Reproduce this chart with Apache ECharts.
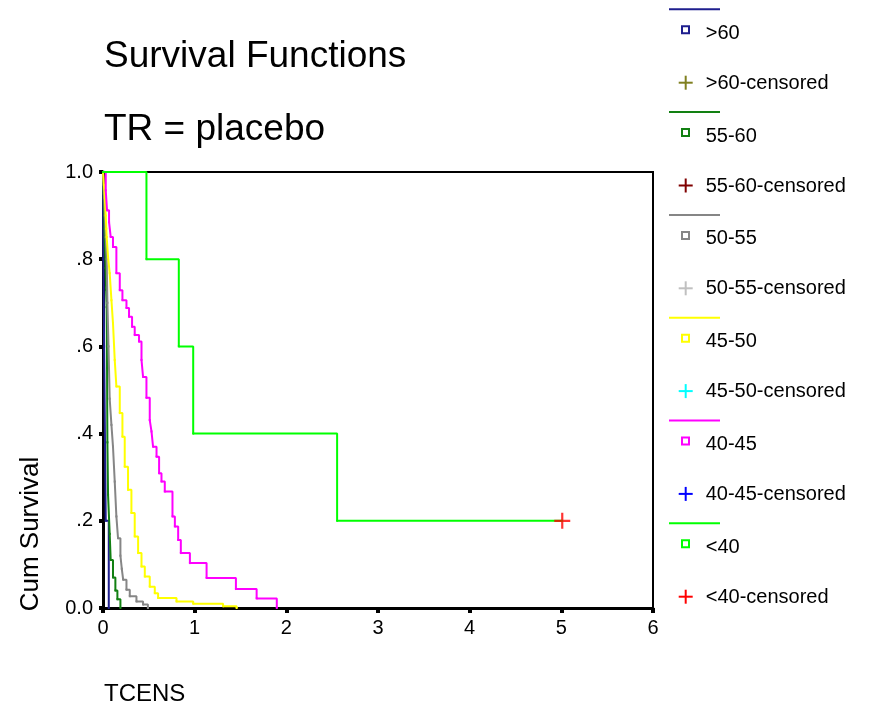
<!DOCTYPE html>
<html>
<head>
<meta charset="utf-8">
<script src="https://cdn.jsdelivr.net/npm/echarts@6/dist/echarts.min.js"></script>
<style>html,body{margin:0;padding:0;background:#fff}#c{width:873px;height:710px}</style>
</head>
<body>
<div id="c"></div>
<script>
const FONT = '"Liberation Sans", Arial, sans-serif';
const groups = ['>60', '55-60', '50-55', '45-50', '40-45', '<40'];
const lineColors = ['#1e1e8e', '#128012', '#868686', '#ffff00', '#ff00ff', '#00ff00'];
const censColors = ['#808020', '#800000', '#c0c0c0', '#00ffff', '#0000ff', '#ff0000'];

const xTicks = [0, 1, 2, 3, 4, 5, 6];
const yTickLabels = {0: '0.0', 0.2: '.2', 0.4: '.4', 0.6: '.6', 0.8: '.8', 1: '1.0'};

// survival step data (time, cumulative survival)
const t_gt60 = [0, 0.004, 0.012, 0.03, 0.063];
const s_gt60 = [1, 0.8, 0.6, 0.2, 0];

const t_55_60 = [0, 0.005, 0.01, 0.016, 0.022, 0.028, 0.034, 0.04, 0.044, 0.048, 0.055, 0.073, 0.084, 0.109, 0.135, 0.157, 0.19];
const s_55_60 = [1, 0.96, 0.92, 0.87, 0.83, 0.78, 0.73, 0.69, 0.55, 0.38, 0.26, 0.17, 0.11, 0.07, 0.04, 0.02, 0];

const t_50_55 = [0, 0.01, 0.02, 0.03, 0.04, 0.048, 0.06, 0.073, 0.092, 0.109, 0.128, 0.146, 0.164, 0.19, 0.205, 0.22, 0.256, 0.292, 0.365, 0.437, 0.49];
const s_50_55 = [1, 0.95, 0.9, 0.85, 0.8, 0.7, 0.6, 0.48, 0.42, 0.37, 0.29, 0.21, 0.16, 0.12, 0.09, 0.065, 0.042, 0.027, 0.015, 0.008, 0];

const t_45_50 = [0, 0.01, 0.02, 0.03, 0.036, 0.04, 0.055, 0.073, 0.092, 0.109, 0.128, 0.146, 0.183, 0.212, 0.237, 0.273, 0.31, 0.346, 0.383, 0.42, 0.456, 0.51, 0.565, 0.601, 0.802, 0.984, 1.31, 1.458];
const s_45_50 = [1, 0.97, 0.94, 0.9, 0.87, 0.851, 0.805, 0.768, 0.706, 0.653, 0.569, 0.508, 0.447, 0.393, 0.324, 0.271, 0.218, 0.164, 0.126, 0.095, 0.072, 0.049, 0.034, 0.023, 0.015, 0.01, 0.004, 0];

const t_40_45 = [0, 0.03, 0.044, 0.066, 0.084, 0.109, 0.146, 0.183, 0.212, 0.256, 0.284, 0.317, 0.346, 0.393, 0.42, 0.437, 0.474, 0.51, 0.529, 0.546, 0.584, 0.612, 0.638, 0.674, 0.758, 0.784, 0.82, 0.849, 0.948, 1.13, 1.45, 1.676, 1.896];
const s_40_45 = [1, 0.958, 0.912, 0.885, 0.851, 0.828, 0.768, 0.729, 0.706, 0.688, 0.668, 0.645, 0.626, 0.611, 0.569, 0.53, 0.482, 0.431, 0.405, 0.37, 0.347, 0.309, 0.29, 0.267, 0.21, 0.187, 0.156, 0.126, 0.103, 0.069, 0.0435, 0.022, 0];

const t_lt40 = [0, 0.474, 0.827, 0.984, 2.554, 5.01];
const s_lt40 = [1, 0.8, 0.6, 0.4, 0.2, 0.2];

// censored observations per group
const cens_gt60 = [];
const cens_55_60 = [];
const cens_50_55 = [];
const cens_45_50 = [];
const cens_40_45 = [];
const cens_lt40 = [[5.01, 0.2]];

const times = [t_gt60, t_55_60, t_50_55, t_45_50, t_40_45, t_lt40];
const survs = [s_gt60, s_55_60, s_50_55, s_45_50, s_40_45, s_lt40];
const cens = [cens_gt60, cens_55_60, cens_50_55, cens_45_50, cens_40_45, cens_lt40];

const PLUS = 'path://M6.9,0H9.1V6.9H16V9.1H9.1V16H6.9V9.1H0V6.9H6.9Z';

const series = [];
groups.forEach((g, i) => {
  series.push({
    name: g, type: 'line', step: 'end',
    data: times[i].map((t, k) => [t, survs[i][k]]),
    symbol: 'rect', symbolSize: 2, showSymbol: true,
    itemStyle: {color: lineColors[i]},
    lineStyle: {color: lineColors[i], width: 2},
    z: 3 + i, animation: false, clip: false
  });
});
groups.forEach((g, i) => {
  series.push({
    name: g + '-censored', type: 'scatter',
    data: cens[i], symbol: PLUS, symbolSize: 16,
    itemStyle: {color: censColors[i]}, z: 20, animation: false
  });
});

// legend drawn as graphic elements
const graphic = [];
groups.forEach((g, i) => {
  const by = 9.3 + 102.8 * i;
  graphic.push({type: 'line', shape: {x1: 669, y1: by, x2: 720, y2: by}, style: {stroke: lineColors[i], lineWidth: 2}});
  graphic.push({type: 'rect', shape: {x: 682, y: by + 17, width: 7, height: 7}, style: {fill: 'none', stroke: lineColors[i], lineWidth: 2}});
  graphic.push({type: 'text', style: {text: g, x: 705.7, y: by + 24, fill: '#000', fontSize: 20, fontFamily: FONT, verticalAlign: 'middle', align: 'left'}});
  const cy = by + 73.4;
  graphic.push({type: 'line', shape: {x1: 678.7, y1: cy, x2: 692.7, y2: cy}, style: {stroke: censColors[i], lineWidth: 2}});
  graphic.push({type: 'line', shape: {x1: 685.7, y1: cy - 7, x2: 685.7, y2: cy + 7}, style: {stroke: censColors[i], lineWidth: 2}});
  graphic.push({type: 'text', style: {text: g + '-censored', x: 705.7, y: cy + 0.5, fill: '#000', fontSize: 20, fontFamily: FONT, verticalAlign: 'middle', align: 'left'}});
});
graphic.push({type: 'text', rotation: Math.PI / 2, x: 31, y: 534, style: {text: 'Cum Survival', x: 0, y: 0, fill: '#000', fontSize: 26, fontFamily: FONT, align: 'center', verticalAlign: 'middle'}});
graphic.push({type: 'text', style: {text: 'TCENS', x: 104, y: 694, fill: '#000', fontSize: 24, fontFamily: FONT, align: 'left', verticalAlign: 'middle'}});

const chart = echarts.init(document.getElementById('c'), null, {renderer: 'canvas'});
chart.setOption({
  animation: false,
  backgroundColor: '#fff',
  title: [
    {text: 'Survival Functions', left: 104, top: 38, padding: 0, textStyle: {fontSize: 37, fontWeight: 'normal', color: '#000', fontFamily: FONT, lineHeight: 37}},
    {text: 'TR = placebo', left: 104, top: 111, padding: 0, textStyle: {fontSize: 37, fontWeight: 'normal', color: '#000', fontFamily: FONT, lineHeight: 37}}
  ],
  grid: {left: 103, right: 220, top: 172, bottom: 102, show: true, borderColor: '#000', borderWidth: 2, backgroundColor: 'transparent'},
  xAxis: {
    type: 'value', min: xTicks[0], max: xTicks[xTicks.length - 1], interval: 1,
    axisLine: {show: true, onZero: false, lineStyle: {color: '#000', width: 3}},
    axisTick: {show: true, length: 5, lineStyle: {color: '#000', width: 4}},
    axisLabel: {fontSize: 20, color: '#000', fontFamily: FONT, margin: 10},
    splitLine: {show: false}
  },
  yAxis: {
    type: 'value', min: 0, max: 1, interval: 0.2,
    axisLine: {show: true, onZero: false, lineStyle: {color: '#000', width: 3}},
    axisTick: {show: true, length: 4, lineStyle: {color: '#000', width: 4}},
    axisLabel: {fontSize: 20, color: '#000', fontFamily: FONT, margin: 10,
      formatter: v => yTickLabels[Math.round(v * 10) / 10]},
    splitLine: {show: false}
  },
  series: series,
  graphic: graphic
});
</script>
</body>
</html>
